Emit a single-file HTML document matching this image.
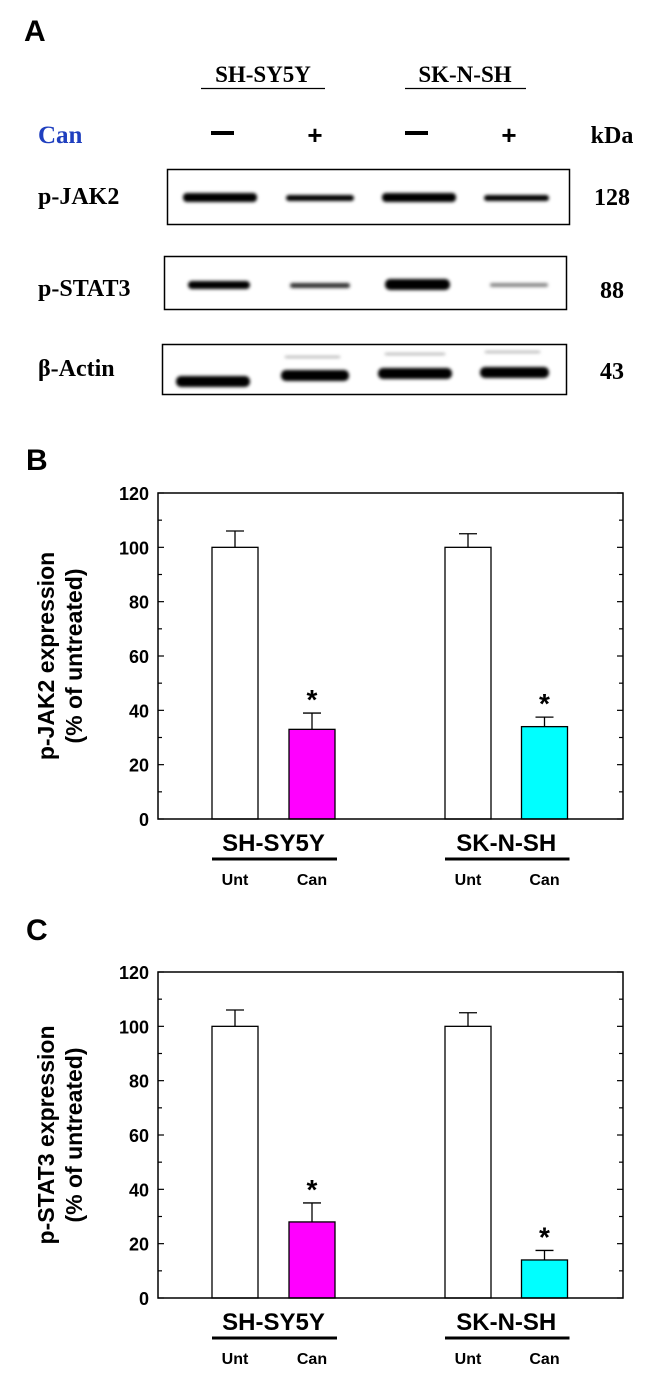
<!DOCTYPE html>
<html><head><meta charset="utf-8"><style>
html,body{margin:0;padding:0;background:#fff;}
svg{display:block;}
.tb{font-family:"Liberation Serif",serif;font-weight:bold;}
.ar{font-family:"Liberation Sans",Arial,sans-serif;font-weight:bold;}
</style></head><body>
<svg id="fig" width="653" height="1381" viewBox="0 0 653 1381" xmlns="http://www.w3.org/2000/svg">
<defs>
<filter id="blur" x="-20%" y="-100%" width="140%" height="300%"><feGaussianBlur stdDeviation="1.6"/></filter>
</defs>
<text x="24" y="41" class="ar" font-size="30">A</text>
<g>
<text x="263" y="82" class="tb" font-size="23" text-anchor="middle">SH-SY5Y</text>
<line x1="201" y1="88.5" x2="325" y2="88.5" stroke="#000" stroke-width="1.2"/>
<text x="465" y="82" class="tb" font-size="23" text-anchor="middle">SK-N-SH</text>
<line x1="405" y1="88.5" x2="526" y2="88.5" stroke="#000" stroke-width="1.2"/>
<text x="38" y="143" class="tb" font-size="25" fill="#1f3fbf">Can</text>
<rect x="211" y="131" width="23" height="4" fill="#000"/>
<text x="315" y="144" class="ar" font-size="26" text-anchor="middle">+</text>
<rect x="405" y="131" width="23" height="4" fill="#000"/>
<text x="509" y="144" class="ar" font-size="26" text-anchor="middle">+</text>
<text x="612" y="143" class="tb" font-size="24" text-anchor="middle">kDa</text>

<text x="38" y="204" class="tb" font-size="24">p-JAK2</text>
<rect x="167.5" y="169.5" width="402" height="55" fill="#fff" stroke="#000" stroke-width="1.5"/>
<g filter="url(#blur)" fill="#000">
<rect x="183" y="193" width="74" height="9" rx="4"/>
<rect x="286" y="195" width="68" height="6" rx="3"/>
<rect x="382" y="193" width="74" height="9" rx="4"/>
<rect x="484" y="195" width="65" height="6" rx="3"/>
</g>
<text x="612" y="205" class="tb" font-size="24" text-anchor="middle">128</text>

<text x="38" y="296" class="tb" font-size="24">p-STAT3</text>
<rect x="164.5" y="256.5" width="402" height="53" fill="#fff" stroke="#000" stroke-width="1.5"/>
<g filter="url(#blur)">
<rect x="188" y="281" width="62" height="8" rx="4" fill="#000"/>
<rect x="290" y="283" width="60" height="5" rx="2.5" fill="#333"/>
<rect x="385" y="279" width="65" height="11" rx="5" fill="#000"/>
<rect x="490" y="283" width="58" height="4" rx="2" fill="#888"/>
</g>
<text x="612" y="298" class="tb" font-size="24" text-anchor="middle">88</text>

<text x="38" y="376" class="tb" font-size="24">β-Actin</text>
<rect x="162.5" y="344.5" width="404" height="50" fill="#fff" stroke="#000" stroke-width="1.5"/>
<g filter="url(#blur)">
<rect x="176" y="376" width="74" height="11" rx="5" fill="#000"/>
<rect x="281" y="370" width="68" height="11" rx="5" fill="#000"/>
<rect x="378" y="368" width="74" height="11" rx="5" fill="#000"/>
<rect x="480" y="367" width="69" height="11" rx="5" fill="#000"/>
<rect x="285" y="356" width="55" height="2" fill="#aaa"/>
<rect x="385" y="353" width="60" height="2" fill="#aaa"/>
<rect x="485" y="351" width="55" height="2" fill="#aaa"/>
</g>
<text x="612" y="379" class="tb" font-size="24" text-anchor="middle">43</text>
</g>

<text x="26" y="470" class="ar" font-size="30">B</text>
<text x="26" y="940" class="ar" font-size="30">C</text>
<g id="chartB"></g>
<g id="chartC"></g>
</svg>
<script>
const categories = ["SH-SY5Y Unt", "SH-SY5Y Can", "SK-N-SH Unt", "SK-N-SH Can"];
const jak2Values = [100, 33, 100, 34];
const jak2Errors = [6, 6, 5, 3.5];
const stat3Values = [100, 28, 100, 14];
const stat3Errors = [6, 7, 5, 3.5];
const significant = [false, true, false, true];
const barColors = ["#ffffff", "#ff00ff", "#ffffff", "#00ffff"];
const tickLabels = [0, 20, 40, 60, 80, 100, 120];
const groupLabels = ["SH-SY5Y", "SK-N-SH"];
const subLabels = ["Unt", "Can", "Unt", "Can"];

const NS = "http://www.w3.org/2000/svg";
function mk(parent, tag, attrs, text) {
  const e = document.createElementNS(NS, tag);
  for (const k in attrs) e.setAttribute(k, attrs[k]);
  if (text !== undefined) e.textContent = text;
  parent.appendChild(e);
  return e;
}
function drawChart(gid, y0, values, errors, title, prefix) {
  const g = document.getElementById(gid);
  const left = 158, right = 623, yMax = 120;
  const yTop = y0 - 326;
  const ys = v => y0 - (v / yMax) * (y0 - yTop);
  const barCenters = [235, 312, 468, 544.5];
  const xs = i => barCenters[i];
  const bw = 46;
  for (let v = 0; v <= yMax; v += 10) {
    const major = v % 20 === 0;
    const len = major ? 6 : 4;
    const t1 = mk(g, "line", {x1: left, x2: left + len, y1: ys(v), y2: ys(v), stroke: "#000", "stroke-width": 1.2});
    
    
    const t2 = mk(g, "line", {x1: right, x2: right - len, y1: ys(v), y2: ys(v), stroke: "#000", "stroke-width": 1.2});
    
    
  }
  tickLabels.forEach(v => {
    const t = mk(g, "text", {x: left - 9, y: ys(v) + 7, "text-anchor": "end", class: "ar", "font-size": 18}, String(v));
    
    
  });
  values.forEach((v, i) => {
    const cx = xs(i);
    const top = ys(v + errors[i]);
    const el = mk(g, "line", {x1: cx, x2: cx, y1: ys(v), y2: top, stroke: "#000", "stroke-width": 1.3});
    
    
    const cap = mk(g, "line", {x1: cx - 9, x2: cx + 9, y1: top, y2: top, stroke: "#000", "stroke-width": 1.3});
    
    
    const r = mk(g, "rect", {x: cx - bw / 2, y: ys(v), width: bw, height: y0 - ys(v), fill: barColors[i], stroke: "#000", "stroke-width": 1.3});
    
    
    if (significant[i]) {
      const s = mk(g, "text", {x: cx, y: top - 4, "text-anchor": "middle", class: "ar", "font-size": 28}, "*");
      
      
    }
  });
  const f = mk(g, "rect", {x: left, y: yTop, width: right - left, height: y0 - yTop, fill: "none", stroke: "#000", "stroke-width": 1.5});
  
  
  groupLabels.forEach((lab, gi) => {
    const x1 = xs(gi * 2) - bw / 2, x2 = xs(gi * 2 + 1) + bw / 2;
    const t = mk(g, "text", {x: (x1 + x2) / 2, y: y0 + 32, "text-anchor": "middle", class: "ar", "font-size": 24}, lab);
    
    
    const u = mk(g, "line", {x1: x1, x2: x2 + 2, y1: y0 + 40, y2: y0 + 40, stroke: "#000", "stroke-width": 3});
    
    
  });
  subLabels.forEach((lab, i) => {
    const t = mk(g, "text", {x: xs(i), y: y0 + 66, "text-anchor": "middle", class: "ar", "font-size": 16}, lab);
    
    
  });
  const cy = (y0 + yTop) / 2;
  const tt = mk(g, "text", {transform: "translate(54," + cy + ") rotate(-90)", "text-anchor": "middle", class: "ar", "font-size": 23}, title);
  
  
  const t2 = mk(g, "text", {transform: "translate(82," + cy + ") rotate(-90)", "text-anchor": "middle", class: "ar", "font-size": 23}, "(% of untreated)");
  
  
}
drawChart("chartB", 819, jak2Values, jak2Errors, "p-JAK2 expression", "jak2");
drawChart("chartC", 1298, stat3Values, stat3Errors, "p-STAT3 expression", "stat3");
</script>
</body></html>
